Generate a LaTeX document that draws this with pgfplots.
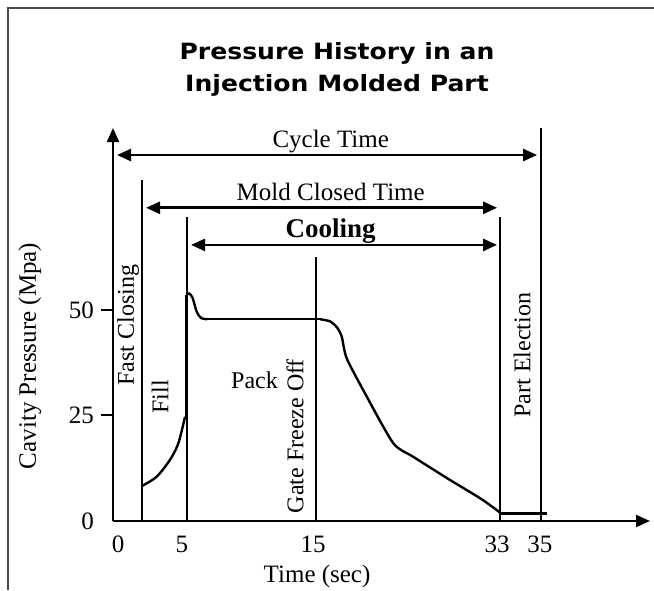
\documentclass[border=0pt]{standalone}
\usepackage{fontspec}
\setmainfont{Liberation Serif}
\newfontfamily\titlefont[FakeStretch=1.12]{DejaVu Sans Bold}
\usepackage{pgfplots}
\pgfplotsset{compat=1.18}
\usetikzlibrary{arrows.meta}

% drawing is 0.5pt per pixel of the 654x590 reference
\tikzset{
  dim/.style={line width=1.3pt, {Triangle[length=7pt,width=6pt]}-{Triangle[length=7pt,width=6pt]}},
  mark line/.style={line width=1.1pt},
  lbl/.style={font=\fontsize{12}{14}\selectfont},
}

\begin{document}
\begin{tikzpicture}
\begin{axis}[
  at={(0,0)}, anchor=south west,
  scale only axis, width=268.5pt, height=196.5pt,
  xmin=0, xmax=43.9, ymin=0, ymax=93.1,
  axis lines=left,
  axis line style={line width=1.1pt, -{Triangle[length=7pt,width=6pt]}},
  clip=false,
  xtick={0.41,5.64,16.36,31.4,34.9},
  xticklabels={0,5,15,33,35},
  xtick style={draw=none},
  xticklabel style={yshift=2pt},
  ytick={25,50},
  ytick style={line width=1pt, black},
  tick align=outside, major tick length=6pt,
  extra y ticks={0},
  extra y tick style={tick style={draw=none}},
  tick label style={font=\fontsize{12.5}{14}\selectfont},
  /pgf/number format/assume math mode=true,
  xlabel={Time (sec)},
  xlabel style={at={(axis description cs:0.380,-0.140)}, anchor=center, font=\fontsize{12.5}{14}\selectfont},
  ylabel={Cavity Pressure (Mpa)},
  ylabel style={at={(axis description cs:-0.1546,0.42)}, anchor=center, font=\fontsize{12.5}{14}\selectfont},
]
% pressure curve: fill
\addplot[black, line width=1.2pt, smooth, tension=0.5] coordinates {
  (2.37,8.3) (3.57,10.5) (4.66,14.5) (5.34,18.4) (5.89,24.7)
};
% injection spike
\addplot[black, line width=1.6pt] coordinates {(6.02,24.7) (6.02,53.6)};
% peak, drop and pack plateau
\addplot[black, line width=1.2pt, smooth, tension=0.5] coordinates {
  (6.02,53.6) (6.22,53.9) (6.5,52.9) (6.84,49.6) (7.2,48.1) (7.7,47.8)
};
\addplot[black, line width=1.2pt] coordinates {(7.7,47.8) (16.93,47.8)};
% cooling decay after gate freeze
\addplot[black, line width=1.2pt, smooth, tension=0.4] coordinates {
  (16.93,47.8) (17.74,47.3) (18.3,45.9) (18.70,43.7) (19.11,38.5)
  (20.74,29.5) (22.92,18.4) (24.55,15.2) (27.56,9.7) (30.01,5.4)
  (31.37,2.6) (31.70,1.8)
};
\addplot[black, line width=1.2pt] coordinates {(31.70,1.8) (35.46,1.8)};

% phase boundaries
\draw[mark line] (axis cs:2.35,0) -- (axis cs:2.35,80.8);
\draw[mark line] (axis cs:6.02,0) -- (axis cs:6.02,72.0);
\draw[mark line] (axis cs:16.6,0) -- (axis cs:16.6,62.6);
\draw[mark line] (axis cs:31.64,0) -- (axis cs:31.64,72.0);
\draw[mark line] (axis cs:35.0,0) -- (axis cs:35.0,93.1);

% time spans
\draw[dim] (axis cs:0.33,86.7) -- (axis cs:34.67,86.7);
\draw[dim] (axis cs:2.70,74.2) -- (axis cs:31.4,74.2);
\draw[dim] (axis cs:6.38,65.4) -- (axis cs:31.4,65.4);
\node[anchor=base, font=\fontsize{12.5}{14}\selectfont] at (axis cs:17.8,88.6) {Cycle Time};
\node[anchor=base, font=\fontsize{12.5}{14}\selectfont] at (axis cs:17.8,75.9) {Mold Closed Time};
\node[anchor=base, font=\bfseries\fontsize{13.5}{15}\selectfont] at (axis cs:17.8,67.2) {Cooling};

% phase names
\node[lbl, rotate=90] at (axis cs:1.23,46.4) {Fast Closing};
\node[lbl, rotate=90] at (axis cs:3.84,29.4) {Fill};
\node[lbl] at (axis cs:11.57,33.4) {Pack};
\node[lbl, rotate=90] at (axis cs:14.88,20.1) {Gate Freeze Off};
\node[lbl, rotate=90] at (axis cs:33.44,39.3) {Part Election};
\end{axis}

% frame and title
\draw[line width=1.2pt, black!70] (-52.5pt,-34.5pt) -- (-52.5pt,256.5pt) -- (270.5pt,256.5pt);
\node[font=\titlefont\fontsize{11.2}{16}\selectfont, align=center] at (112pt,226pt)
  {Pressure History in an\\Injection Molded Part};

\pgfresetboundingbox
\useasboundingbox (-56.5pt,-34.5pt) rectangle (270.5pt,260.5pt);
\end{tikzpicture}
\end{document}
